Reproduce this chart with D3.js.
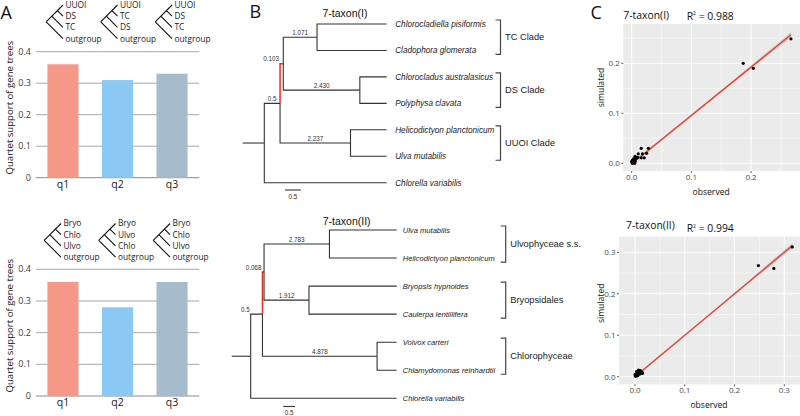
<!DOCTYPE html>
<html>
<head>
<meta charset="utf-8">
<script src="https://cdn.jsdelivr.net/npm/d3@7"></script>
<style>
  html, body { margin: 0; padding: 0; background: #fff; }
  svg { display: block; }
</style>
</head>
<body>
<svg id="fig" width="800" height="416"></svg>
<script>
// ---------------- data ----------------
// Panel A: quartet support
const quartets = ["q1", "q2", "q3"];
const supportI = [0.36, 0.31, 0.33];
const supportII = [0.36, 0.28, 0.36];
const supportTicks = [0, 0.1, 0.2, 0.3, 0.4];
const quartetLeavesI = [["UUOI", "DS", "TC", "outgroup"], ["UUOI", "TC", "DS", "outgroup"], ["UUOI", "DS", "TC", "outgroup"]];
const quartetLeavesII = [["Bryo", "Chlo", "Ulvo", "outgroup"], ["Bryo", "Ulvo", "Chlo", "outgroup"], ["Bryo", "Chlo", "Ulvo", "outgroup"]];
const barColors = ["#f59887", "#8bc9f4", "#a6bbcc"];

// Panel B: trees (id, parent, internal branch length)
const taxaI = ["Chlorocladiella pisiformis", "Cladophora glomerata", "Chlorocladus australasicus",
  "Polyphysa clavata", "Helicodictyon planctonicum", "Ulva mutabilis", "Chlorella variabilis"];
const leafParentI = ["TC", "TC", "DS", "DS", "UUOI", "UUOI", "root"];
const nodesI = [["root", null, "0"], ["A", "root", "0.5"], ["B", "A", "0.103"],
  ["TC", "B", "1.071"], ["DS", "B", "2.430"], ["UUOI", "A", "2.237"]];
const cladeNodesI = ["TC", "DS", "UUOI"];
const cladeNamesI = ["TC Clade", "DS Clade", "UUOI Clade"];

const taxaII = ["Ulva mutabilis", "Helicodictyon planctonicum", "Bryopsis hypnoides",
  "Caulerpa lentillifera", "Volvox carteri", "Chlamydomonas reinhardtii", "Chlorella variabilis"];
const leafParentII = ["Ulvo", "Ulvo", "Bryo", "Bryo", "Chlo", "Chlo", "root"];
const nodesII = [["root", null, "0"], ["A", "root", "0.5"], ["B", "A", "0.068"],
  ["Ulvo", "B", "2.783"], ["Bryo", "B", "1.912"], ["Chlo", "A", "4.878"]];
const cladeNodesII = ["Ulvo", "Bryo", "Chlo"];
const cladeNamesII = ["Ulvophyceae s.s.", "Bryopsidales", "Chlorophyceae"];

// Panel C: observed vs simulated
const observedI = [0.267, 0.187, 0.204, 0.016, 0.028, 0.011, 0.018, 0.016, 0.021, 0.025, 0.0055, 0.003,
  0.000, 0.001, 0.002, 0.004, 0.006, 0.008, 0.003, 0.005, 0.001, 0.007, 0.002, 0.010, 0.004];
const simulatedI = [0.249, 0.200, 0.190, 0.030, 0.030, 0.019, 0.019, 0.011, 0.011, 0.020, 0.014, 0.007,
  0.003, 0.000, 0.005, 0.002, 0.004, 0.010, 0.009, 0.000, 0.006, 0.012, 0.001, 0.012, 0.008];
const fitXI = [0, 0.267], fitYI = [-0.001, 0.257];
const bandXI = [0, 0.13, 0.267], bandLoI = [-0.004, 0.123, 0.252], bandHiI = [0.002, 0.126, 0.262];
const ticksI = [0, 0.1, 0.2];

const observedII = [0.316, 0.248, 0.279, 0.002, 0.004, 0.006, 0.008, 0.010, 0.012, 0.015, 0.005, 0.001,
  0.003, 0.007, 0.009, 0.011, 0.014, 0.000, 0.006, 0.013];
const simulatedII = [0.313, 0.268, 0.261, 0.003, 0.006, 0.010, 0.014, 0.012, 0.010, 0.008, 0.002, 0.001,
  0.012, 0.016, 0.006, 0.015, 0.011, 0.005, 0.004, 0.009];
const fitXII = [0, 0.316], fitYII = [0.000, 0.316];
const bandXII = [0, 0.158, 0.316], bandLoII = [-0.003, 0.1565, 0.310], bandHiII = [0.003, 0.1595, 0.322];
const ticksII = [0, 0.1, 0.2, 0.3];

// ---------------- drawing ----------------
const svg = d3.select("#fig");
const sans = "'Open Sans', 'Noto Sans', sans-serif";
const arial = "'Liberation Sans', Arial, sans-serif";

// panel letters
[["A", 0.5, 18.5], ["B", 249.5, 17.5], ["C", 590.5, 18.5]].forEach(([t, x, y]) => {
  svg.append("text").attr("x", x).attr("y", y).text(t)
    .style("font-family", sans).style("font-size", "18px").attr("fill", "#111");
});

// ---- Panel A ----
function drawBars(cfg) {
  const g = svg.append("g");
  const x = d3.scaleBand().domain(quartets).range([35.7, 199.3]).paddingInner(0.43).paddingOuter(0.215);
  const y = d3.scaleLinear().domain([0, 0.4]).range([cfg.base, cfg.top]);

  g.selectAll(".grid").data(supportTicks).join("line")
    .attr("x1", 35.7).attr("x2", 199.3)
    .attr("y1", d => y(d)).attr("y2", d => y(d))
    .attr("stroke", d => d === 0 ? "#8a8a8a" : "#a9a9a9").attr("stroke-width", 1);

  g.selectAll(".bar").data(cfg.values).join("rect")
    .attr("x", (d, i) => x(quartets[i])).attr("y", d => y(d))
    .attr("width", x.bandwidth()).attr("height", d => cfg.base - y(d))
    .attr("fill", (d, i) => barColors[i]);

  g.selectAll(".tick").data(supportTicks).join("text")
    .attr("x", 31).attr("y", d => y(d)).attr("dy", "0.35em").attr("text-anchor", "end")
    .text(d => d === 0 ? "0" : d3.format(".1f")(d))
    .style("font-family", sans).style("font-size", "9px").attr("fill", "#404040");

  g.selectAll(".cat").data(quartets).join("text")
    .attr("x", d => x(d) + x.bandwidth() / 2).attr("y", cfg.base + 10)
    .attr("text-anchor", "middle").text(d => d)
    .style("font-family", sans).style("font-size", "10.5px").attr("fill", "#222");

  g.append("text")
    .attr("transform", `translate(9.5,${(cfg.base + cfg.top) / 2 - 7}) rotate(-90)`)
    .attr("text-anchor", "middle").attr("dy", "0.35em")
    .text("Quartet support of gene trees")
    .style("font-family", sans).style("font-size", "9.6px").attr("fill", "#222");

  // little quartet cladograms above the bars
  const s = 11.2;
  cfg.leaves.forEach((names, i) => {
    const X = x(quartets[i]) + x.bandwidth() / 2 + cfg.iconDx;
    const y0 = cfg.iconY0;
    const path = d3.path();
    path.moveTo(X - 1.5 * s, y0 + 1.5 * s); path.lineTo(X, y0);
    path.moveTo(X - 1.5 * s, y0 + 1.5 * s); path.lineTo(X, y0 + 3 * s);
    path.moveTo(X - s, y0 + s); path.lineTo(X, y0 + 2 * s);
    path.moveTo(X - 0.5 * s, y0 + 0.5 * s); path.lineTo(X, y0 + s);
    g.append("path").attr("d", path.toString())
      .attr("fill", "none").attr("stroke", "#111").attr("stroke-width", 1.1);
    g.selectAll(null).data(names).join("text")
      .attr("x", X + 2.5).attr("y", (d, k) => y0 + k * s).attr("dy", "0.35em")
      .text(d => d)
      .style("font-family", sans).style("font-size", "8.3px").attr("fill", "#222");
  });
}

drawBars({ values: supportI, base: 177.7, top: 51.7, leaves: quartetLeavesI, iconY0: 5, iconDx: 0 });
drawBars({ values: supportII, base: 396, top: 269.3, leaves: quartetLeavesII, iconY0: 223.5, iconDx: -2 });

// ---- Panel B ----
function drawTree(cfg) {
  const g = svg.append("g");
  const rows = cfg.nodes.map(d => ({ id: d[0], parent: d[1], len: d[2] }))
    .concat(cfg.taxa.map((t, i) => ({ id: t, parent: cfg.leafParent[i], len: null })));
  const root = d3.stratify().id(d => d.id).parentId(d => d.parent)(rows);

  const x = d3.scaleLinear().domain([0, 1]).range([cfg.rootX, cfg.rootX + cfg.unit]);
  const y = d3.scalePoint().domain(cfg.taxa).range([cfg.y0, cfg.y1]);

  root.eachBefore(n => { n.dist = n.parent ? n.parent.dist + (n.data.len ? +n.data.len : 0) : 0; });
  root.eachAfter(n => {
    n.py = n.children ? d3.mean(n.children, c => c.py) : y(n.id);
    n.px = n.children ? x(n.dist) : cfg.tipX;
  });

  // root stub
  g.append("path").attr("d", `M${cfg.stubX},${root.py}H${root.px}`)
    .attr("stroke", "#333").attr("stroke-width", 1.1);

  const branches = root.descendants().filter(n => n.parent);
  g.selectAll(".branch").data(branches).join("path")
    .attr("d", n => `M${n.parent.px},${n.parent.py}V${n.py}H${n.px}`)
    .attr("fill", "none")
    .attr("stroke", n => n.id === "B" ? "#ee2a24" : "#333")
    .attr("stroke-width", n => n.id === "B" ? 1.5 : 1.1);

  // internal branch lengths
  const internal = branches.filter(n => n.children);
  g.selectAll(".blen").data(internal).join("text")
    .attr("x", n => (n.px - n.parent.px > 14) ? (n.px + n.parent.px) / 2 : n.parent.px - 1)
    .attr("y", n => n.py - 2.5)
    .attr("text-anchor", n => (n.px - n.parent.px > 14) ? "middle" : "end")
    .text(n => n.data.len)
    .style("font-family", arial).style("font-size", "6.3px").attr("fill", "#333");

  // tip labels
  g.selectAll(".tip").data(root.leaves()).join("text")
    .attr("x", cfg.tipX + cfg.labelGap).attr("y", n => n.py).attr("dy", "0.35em")
    .text(n => n.id)
    .style("font-family", arial).style("font-size", cfg.tipFont).style("font-style", "italic")
    .attr("fill", "#222");

  // clade brackets
  cfg.cladeNodes.forEach((id, i) => {
    const node = root.find(n => n.id === id);
    const ys = node.leaves().map(l => l.py);
    const yTop = d3.min(ys) - 4, yBot = d3.max(ys) + 4;
    g.append("path")
      .attr("d", `M${cfg.bracketX - 5},${yTop}H${cfg.bracketX}V${yBot}H${cfg.bracketX - 5}`)
      .attr("fill", "none").attr("stroke", "#444").attr("stroke-width", 1.2);
    g.append("text").attr("x", cfg.bracketX + 4.5).attr("y", (yTop + yBot) / 2).attr("dy", "0.35em")
      .text(cfg.cladeNames[i])
      .style("font-family", arial).style("font-size", "9.3px").attr("fill", "#222");
  });

  // title
  g.append("text").attr("x", cfg.titleX).attr("y", cfg.titleY).attr("text-anchor", "middle")
    .text(cfg.title).style("font-family", arial).style("font-size", "10.5px").attr("fill", "#111");

  // scale bar 0.5
  const len = x(0.5) - x(0);
  g.append("path").attr("d", `M${cfg.barX},${cfg.barY}h${len}`)
    .attr("stroke", "#333").attr("stroke-width", 1.1);
  g.append("text").attr("x", cfg.barX + len / 2).attr("y", cfg.barY + 8.5).attr("text-anchor", "middle")
    .text("0.5").style("font-family", arial).style("font-size", "6.3px").attr("fill", "#333");
}

drawTree({
  taxa: taxaI, leafParent: leafParentI, nodes: nodesI, cladeNodes: cladeNodesI, cladeNames: cladeNamesI,
  rootX: 264.3, unit: 31.5, tipX: 386.7, labelGap: 8.5, tipFont: "8.2px", y0: 24, y1: 182.7, stubX: 242.7,
  bracketX: 500.5, title: "7-taxon(I)", titleX: 345, titleY: 17, barX: 285, barY: 190
});
drawTree({
  taxa: taxaII, leafParent: leafParentII, nodes: nodesII, cladeNodes: cladeNodesII, cladeNames: cladeNamesII,
  rootX: 250.7, unit: 23.5, tipX: 396.7, labelGap: 6, tipFont: "7.6px", y0: 230, y1: 398.3, stubX: 231.7,
  bracketX: 505.7, title: "7-taxon(II)", titleX: 346.7, titleY: 224.5, barX: 283.3, barY: 406.5
});

// ---- Panel C ----
function drawScatter(cfg) {
  const g = svg.append("g");
  const tMax = cfg.ticks[cfg.ticks.length - 1];
  const x = d3.scaleLinear().domain([0, tMax]).range([cfg.x0px, cfg.xMaxPx]);
  const y = d3.scaleLinear().domain([0, tMax]).range([cfg.y0px, cfg.yMaxPx]);
  const [L, R, T, B] = cfg.panel;

  g.append("rect").attr("x", L).attr("y", T).attr("width", R - L).attr("height", B - T).attr("fill", "#ebebeb");

  const minor = d3.range(0.05, tMax + 0.1, 0.1);
  const inX = v => x(v) > L && x(v) < R, inY = v => y(v) > T && y(v) < B;
  g.selectAll(".mx").data(minor.filter(inX)).join("line")
    .attr("x1", d => x(d)).attr("x2", d => x(d)).attr("y1", T).attr("y2", B)
    .attr("stroke", "#fff").attr("stroke-width", 0.5);
  g.selectAll(".my").data(minor.filter(inY)).join("line")
    .attr("y1", d => y(d)).attr("y2", d => y(d)).attr("x1", L).attr("x2", R)
    .attr("stroke", "#fff").attr("stroke-width", 0.5);
  g.selectAll(".gx").data(cfg.ticks).join("line")
    .attr("x1", d => x(d)).attr("x2", d => x(d)).attr("y1", T).attr("y2", B)
    .attr("stroke", "#fff").attr("stroke-width", 1);
  g.selectAll(".gy").data(cfg.ticks).join("line")
    .attr("y1", d => y(d)).attr("y2", d => y(d)).attr("x1", L).attr("x2", R)
    .attr("stroke", "#fff").attr("stroke-width", 1);

  // confidence band + fitted line
  const area = d3.area().curve(d3.curveBasis)
    .x((d, i) => x(cfg.bandX[i])).y0((d, i) => y(cfg.bandLo[i])).y1((d, i) => y(cfg.bandHi[i]));
  g.append("path").attr("d", area(cfg.bandX)).attr("fill", "#999").attr("opacity", 0.45);
  g.append("line")
    .attr("x1", x(cfg.fitX[0])).attr("y1", y(cfg.fitY[0]))
    .attr("x2", x(cfg.fitX[1])).attr("y2", y(cfg.fitY[1]))
    .attr("stroke", "#f03c26").attr("stroke-width", 1.2);

  g.selectAll(".pt").data(cfg.obs).join("circle")
    .attr("cx", d => x(d)).attr("cy", (d, i) => y(cfg.sim[i])).attr("r", 1.6).attr("fill", "#000");

  // axes
  const fmt = d3.format(".1f");
  g.selectAll(".tx").data(cfg.ticks).join("line")
    .attr("x1", d => x(d)).attr("x2", d => x(d)).attr("y1", B).attr("y2", B + 2)
    .attr("stroke", "#333").attr("stroke-width", 0.8);
  g.selectAll(".ty").data(cfg.ticks).join("line")
    .attr("y1", d => y(d)).attr("y2", d => y(d)).attr("x1", L - 2).attr("x2", L)
    .attr("stroke", "#333").attr("stroke-width", 0.8);
  g.selectAll(".lx").data(cfg.ticks).join("text")
    .attr("x", d => x(d)).attr("y", B + 8.5).attr("text-anchor", "middle").text(fmt)
    .style("font-family", sans).style("font-size", "8px").attr("fill", "#4d4d4d");
  g.selectAll(".ly").data(cfg.ticks).join("text")
    .attr("x", L - 3.5).attr("y", d => y(d)).attr("dy", "0.35em").attr("text-anchor", "end").text(fmt)
    .style("font-family", sans).style("font-size", "8px").attr("fill", "#4d4d4d");

  g.append("text").attr("x", (L + R) / 2 - 0.5).attr("y", B + 21).attr("dy", "0.35em")
    .attr("text-anchor", "middle").text("observed")
    .style("font-family", sans).style("font-size", "8.6px").attr("fill", "#111");
  g.append("text").attr("transform", `translate(601,${cfg.simY}) rotate(-90)`)
    .attr("text-anchor", "middle").attr("dy", "0.35em").text("simulated")
    .style("font-family", sans).style("font-size", "8.6px").attr("fill", "#111");

  // titles
  g.append("text").attr("x", cfg.titleX).attr("y", cfg.titleY).text(cfg.title)
    .style("font-family", sans).style("font-size", "10.4px").attr("fill", "#111");
  const r2 = g.append("text").attr("x", 686.7).attr("y", cfg.titleY + cfg.r2dy)
    .style("font-family", sans).style("font-size", "10.4px").attr("fill", "#111");
  r2.append("tspan").text("R");
  r2.append("tspan").attr("dy", -4.5).style("font-size", "5px").text("2");
  r2.append("tspan").attr("dy", 4.5).text(" = " + cfg.r2);
}

drawScatter({
  obs: observedI, sim: simulatedI, fitX: fitXI, fitY: fitYI,
  bandX: bandXI, bandLo: bandLoI, bandHi: bandHiI, ticks: ticksI,
  x0px: 631.7, xMaxPx: 751, y0px: 163.3, yMaxPx: 63.3, panel: [623.3, 800, 24, 171],
  title: "7-taxon(I)", titleX: 623.3, titleY: 19, r2: "0.988", r2dy: 0.5, simY: 87.5
});
drawScatter({
  obs: observedII, sim: simulatedII, fitX: fitXII, fitY: fitYII,
  bandX: bandXII, bandLo: bandLoII, bandHi: bandHiII, ticks: ticksII,
  x0px: 635, xMaxPx: 784.3, y0px: 376.7, yMaxPx: 252.3, panel: [619, 800, 236.7, 384.3],
  title: "7-taxon(II)", titleX: 626, titleY: 228.5, r2: "0.994", r2dy: 3.5, simY: 303.3
});
</script>
</body>
</html>
